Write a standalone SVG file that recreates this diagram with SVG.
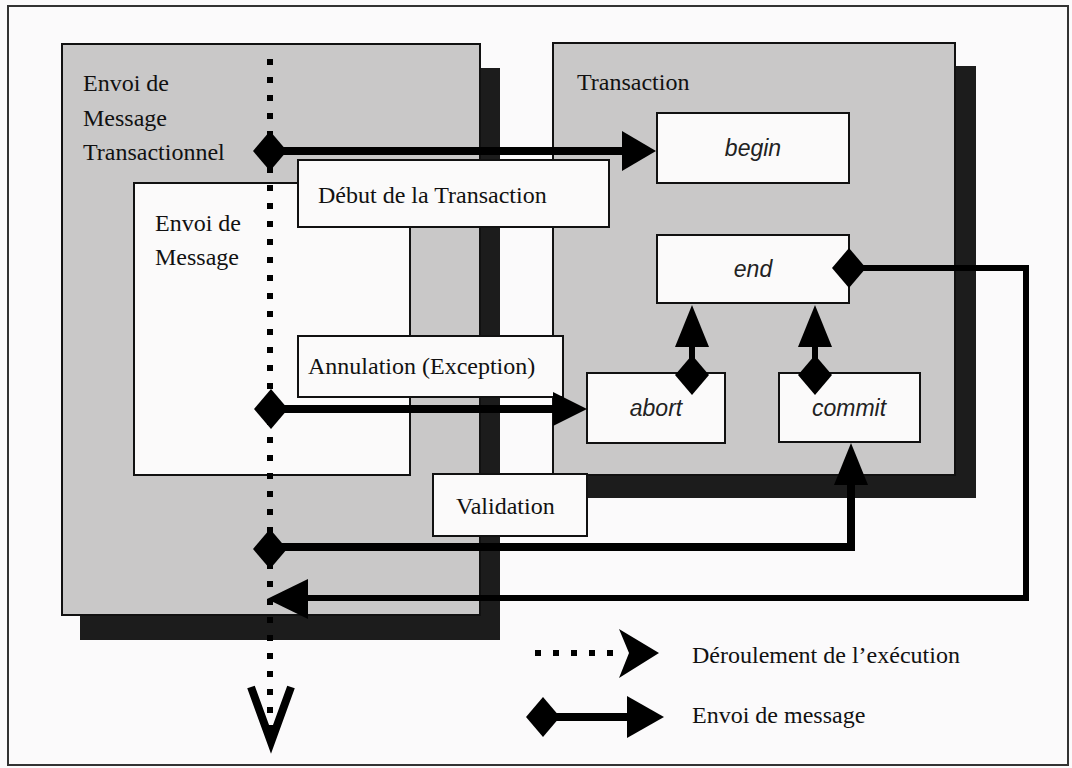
<svg xmlns="http://www.w3.org/2000/svg" width="1072" height="768" viewBox="0 0 1072 768">
<style>
.bg{fill:#fbfafb}
.frame{fill:none;stroke:#333;stroke-width:2}
.shadow{fill:#1c1c1c}
.panel{fill:#c9c8c8;stroke:#111;stroke-width:2}
.box{fill:#fbfafa;stroke:#111;stroke-width:2}
.serif{font-family:"Liberation Serif","Times New Roman",serif;font-size:24px;fill:#111}
.ital{font-family:"Liberation Sans",Arial,sans-serif;font-style:italic;font-size:23px;fill:#222;text-anchor:middle}
.msg{fill:none;stroke:#000;stroke-width:8}
.msgv{fill:none;stroke:#000;stroke-width:6}
.dots{fill:none;stroke:#000;stroke-width:6;stroke-dasharray:6 12}
.head{fill:#000}
</style>
<defs>
<polygon id="dia" points="0,-20 17,0 0,20 -17,0"/>
</defs>
<rect class="bg" x="0" y="0" width="1072" height="768"/>
<rect class="frame" x="8" y="6" width="1060" height="759"/>

<g id="envoi-transactionnel">
<rect class="shadow" x="80" y="68" width="420" height="572"/>
<rect class="panel" x="62" y="44" width="418" height="571"/>
<text class="serif" x="83" y="91">Envoi de</text>
<text class="serif" x="83" y="126">Message</text>
<text class="serif" x="83" y="160">Transactionnel</text>
</g>

<g id="transaction">
<rect class="shadow" x="574" y="66" width="402" height="432"/>
<rect class="panel" x="553" y="43" width="402" height="432"/>
<text class="serif" x="577" y="90">Transaction</text>
</g>

<g id="envoi-message">
<rect class="box" x="134" y="183" width="276" height="292"/>
<text class="serif" x="155" y="231">Envoi de</text>
<text class="serif" x="155" y="265">Message</text>
</g>

<g id="begin">
<rect class="box" x="657" y="113" width="192" height="70"/>
<text class="ital" x="753" y="156">begin</text>
</g>
<g id="end">
<rect class="box" x="657" y="235" width="192" height="68"/>
<text class="ital" x="753" y="277">end</text>
</g>
<g id="abort">
<rect class="box" x="587" y="373" width="138" height="70"/>
<text class="ital" x="656" y="416">abort</text>
</g>
<g id="commit">
<rect class="box" x="779" y="373" width="141" height="69"/>
<text class="ital" x="849" y="416">commit</text>
</g>

<g id="debut">
<rect class="box" x="298" y="160" width="311" height="67"/>
<text class="serif" x="318" y="203">Début de la Transaction</text>
</g>
<g id="annulation">
<rect class="box" x="298" y="336" width="265" height="61"/>
<text class="serif" x="308" y="374">Annulation (Exception)</text>
</g>
<g id="validation">
<rect class="box" x="433" y="474" width="154" height="62"/>
<text class="serif" x="456" y="514">Validation</text>
</g>

<g id="connectors">
<line class="dots" x1="270" y1="59" x2="270" y2="738"/>
<polyline points="251,687 271,742 291,687" fill="none" stroke="#000" stroke-width="8"/>

<line class="msg" x1="270" y1="151" x2="624" y2="151"/>
<polygon class="head" points="622,131 656,151 622,171"/>
<use href="#dia" x="270" y="151"/>

<line class="msg" x1="271" y1="409" x2="555" y2="409"/>
<polygon class="head" points="553,392 587,409 553,426"/>
<use href="#dia" x="271" y="409"/>

<polyline class="msg" points="270,547 851,547 851,483"/>
<polygon class="head" points="834,485 851,443 868,485"/>
<use href="#dia" x="270" y="549"/>

<polyline class="msgv" points="849,268 1026,268 1026,598 306,598"/>
<polygon class="head" points="308,579 267,599 308,619"/>
<use href="#dia" x="849" y="268"/>

<line class="msgv" x1="692" y1="375" x2="692" y2="345"/>
<polygon class="head" points="675,347 692,305 709,347"/>
<use href="#dia" x="692" y="375"/>

<line class="msgv" x1="815" y1="375" x2="815" y2="345"/>
<polygon class="head" points="798,347 815,305 832,347"/>
<use href="#dia" x="815" y="375"/>
</g>

<g id="legend">
<line class="dots" x1="535" y1="653" x2="625" y2="653"/>
<polygon class="head" points="619,629 659,653 619,678 629,653"/>
<text class="serif" x="692" y="663">Déroulement de l’exécution</text>
<line class="msg" x1="543" y1="717" x2="630" y2="717"/>
<polygon class="head" points="627,696 664,717 627,738"/>
<use href="#dia" x="543" y="717"/>
<text class="serif" x="692" y="723">Envoi de message</text>
</g>
</svg>
